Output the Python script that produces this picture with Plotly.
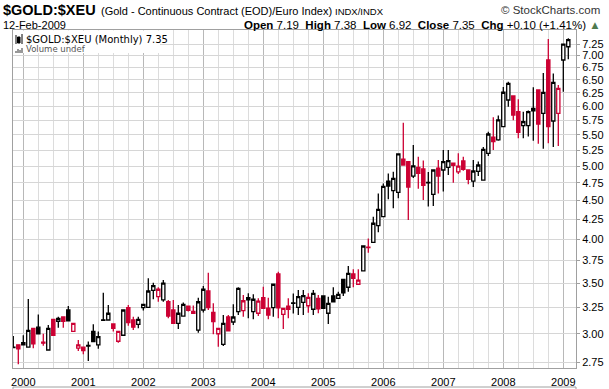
import plotly.graph_objects as go

# ---------------- data (monthly, Nov 1999 .. Feb 2009) ----------------
month_labels = (["1999-11", "1999-12"] +
                [f"{y}-{m:02d}" for y in range(2000, 2009) for m in range(1, 13)] +
                ["2009-01", "2009-02"])

opens = [2.88, 2.90, 2.90, 2.88, 3.05, 3.06, 2.925, 2.855, 3.135, 3.116, 3.157, 3.225,
         3.022, 2.872, 2.88, 2.895, 3.022, 2.90, 3.13, 3.128, 3.09, 2.932, 2.986, 3.248,
         3.128, 3.087, 3.248, 3.25, 3.424, 3.358, 3.325, 3.307, 3.225, 3.097, 3.166, 3.264,
         3.212, 3.034, 3.225, 3.417, 3.202, 3.00, 2.905, 3.157, 3.109, 3.208, 3.218, 3.348,
         3.208, 3.193, 3.348, 3.242, 3.248, 3.599, 3.183, 3.264, 3.295, 3.25, 3.301, 3.267,
         3.232, 3.342, 3.366, 3.193, 3.366, 3.342, 3.541, 3.456, 3.599, 3.488, 3.632, 3.905,
         3.963, 4.169, 4.285, 4.776, 4.638, 4.614, 5.104, 5.067, 4.85, 4.981, 4.955, 4.755,
         4.587, 4.966, 4.94, 4.981, 5.044, 4.913, 5.079, 4.94, 4.776, 4.92, 4.79, 5.198,
         5.458, 5.413, 5.636, 6.114, 6.19, 5.90, 5.654, 5.654, 5.96, 6.304, 5.87, 6.906,
         5.735, 5.87, 6.906, 7.19]
highs = [2.98, 2.90, 2.985, 3.335, 3.055, 3.18, 3.00, 3.08, 3.14, 3.16, 3.16, 3.264,
         3.097, 2.943, 2.88, 2.93, 3.087, 3.02, 3.40, 3.274, 3.09, 3.022, 3.23, 3.274,
         3.16, 3.16, 3.285, 3.552, 3.505, 3.456, 3.533, 3.325, 3.325, 3.274, 3.30, 3.27,
         3.27, 3.348, 3.47, 3.613, 3.291, 3.05, 3.176, 3.176, 3.281, 3.456, 3.376, 3.393,
         3.383, 3.342, 3.462, 3.348, 3.49, 3.624, 3.245, 3.342, 3.39, 3.428, 3.428, 3.393,
         3.428, 3.376, 3.37, 3.358, 3.456, 3.41, 3.545, 3.687, 3.651, 3.651, 3.92, 4.01,
         4.285, 4.60, 4.74, 4.889, 4.913, 5.19, 5.706, 5.07, 5.33, 5.145, 5.084, 4.91,
         4.94, 5.093, 5.25, 5.25, 5.05, 5.198, 5.145, 4.94, 5.093, 5.07, 5.30, 5.551,
         5.80, 5.83, 6.36, 6.464, 6.19, 6.127, 5.90, 5.92, 6.355, 6.31, 6.64, 7.36,
         6.63, 6.40, 7.25, 7.38]
lows = [2.87, 2.733, 2.90, 2.88, 2.87, 3.00, 2.893, 2.85, 2.98, 3.056, 3.056, 3.12,
        3.022, 2.846, 2.818, 2.76, 2.925, 2.866, 3.12, 3.125, 3.02, 2.919, 2.986, 3.074,
        3.034, 3.05, 3.22, 3.245, 3.332, 3.307, 3.307, 3.144, 3.09, 3.044, 3.16, 3.21,
        3.19, 3.01, 3.20, 3.225, 2.995, 2.884, 2.89, 3.02, 3.081, 3.176, 3.16, 3.144,
        3.135, 3.166, 3.24, 3.135, 3.16, 3.144, 3.044, 3.144, 3.19, 3.176, 3.176, 3.198,
        3.176, 3.193, 3.24, 3.09, 3.30, 3.34, 3.366, 3.41, 3.456, 3.488, 3.63, 3.84,
        3.96, 4.086, 4.28, 4.518, 4.396, 4.532, 5.01, 4.242, 4.82, 4.666, 4.509, 4.42,
        4.427, 4.60, 4.627, 4.865, 4.75, 4.88, 4.93, 4.73, 4.689, 4.85, 4.78, 5.155,
        5.25, 5.40, 5.63, 5.99, 5.75, 5.44, 5.44, 5.47, 5.40, 5.35, 5.27, 5.36,
        5.30, 5.315, 6.27, 6.92]
closes = [2.875, 2.865, 2.92, 3.03, 2.91, 3.00, 2.915, 3.05, 2.986, 3.144, 3.116, 3.12,
          3.097, 2.899, 2.849, 2.89, 2.93, 2.973, 3.125, 3.193, 3.05, 3.022, 3.225, 3.103,
          3.06, 3.135, 3.281, 3.417, 3.473, 3.435, 3.50, 3.166, 3.097, 3.193, 3.281, 3.222,
          3.193, 3.307, 3.435, 3.248, 3.112, 3.05, 3.097, 3.027, 3.157, 3.445, 3.317, 3.325,
          3.332, 3.314, 3.242, 3.176, 3.488, 3.245, 3.24, 3.232, 3.29, 3.358, 3.369, 3.352,
          3.393, 3.235, 3.242, 3.291, 3.307, 3.383, 3.399, 3.606, 3.552, 3.533, 3.919, 3.899,
          4.20, 4.382, 4.70, 4.705, 4.816, 5.187, 5.016, 4.689, 5.001, 4.889, 4.715, 4.751,
          4.94, 4.85, 5.067, 5.084, 5.01, 5.00, 4.951, 4.802, 4.925, 5.016, 5.26, 5.512,
          5.386, 5.753, 6.26, 6.432, 5.84, 5.541, 5.723, 5.90, 5.917, 5.682, 6.259, 5.636,
          6.452, 6.336, 7.25, 7.35]

year_labels = [str(y) for y in range(2000, 2010)]
year_positions = [2 + 12 * i for i in range(10)]          # January of each year
price_ticks = [2.75, 3.00, 3.25, 3.50, 3.75, 4.00, 4.25, 4.50, 4.75, 5.00,
               5.25, 5.50, 5.75, 6.00, 6.25, 6.50, 6.75, 7.00, 7.25]
price_tick_text = [f"{v:.2f}" for v in price_ticks]

# ---------------- styling ----------------
W, H = 609, 389
L, R, T, B = 13, 33, 30, 21
PW, PH = W - L - R, H - T - B
BLACK = "#000000"
RED = "#CC0033"
FONT = "Liberation Sans, Arial, sans-serif"


def xp(px):
    return (px - L) / PW


def yp(py):
    return 1 - (py - T) / PH


idx = list(range(len(closes)))
groups = {"black": [], "red": []}
for i in idx:
    prev = closes[i - 1] if i > 0 else closes[i]
    groups["black" if closes[i] >= prev else "red"].append(i)

fig = go.Figure()
for name, col in (("black", BLACK), ("red", RED)):
    ids = groups[name]
    fig.add_trace(go.Candlestick(
        x=[idx[i] for i in ids],
        open=[opens[i] for i in ids],
        high=[highs[i] for i in ids],
        low=[lows[i] for i in ids],
        close=[closes[i] for i in ids],
        text=[month_labels[i] for i in ids],
        increasing=dict(line=dict(color=col, width=1.3), fillcolor="#FFFFFF"),
        decreasing=dict(line=dict(color=col, width=1.3), fillcolor=col),
        whiskerwidth=0,
        showlegend=False,
        hoverinfo="text+y",
    ))

fig.update_layout(
    width=W, height=H,
    margin=dict(l=L, r=R, t=T, b=B, pad=0, autoexpand=False),
    paper_bgcolor="#FFFFFF", plot_bgcolor="#FFFFFF",
    boxgap=0.08,
    font=dict(family=FONT, size=11, color="#000000"),
    xaxis=dict(
        range=[-0.06, 112.54],
        tickmode="array", tickvals=year_positions, ticktext=year_labels,
        showgrid=True, gridcolor="#B8B8B8", gridwidth=1,
        minor=dict(tick0=2, dtick=3, showgrid=True, gridcolor="#DCDCDC", gridwidth=1),
        ticks="outside", ticklen=4, tickcolor="rgba(0,0,0,0)",
        showline=True, linecolor="#A0A0A0", linewidth=1, mirror=True,
        rangeslider=dict(visible=False),
        zeroline=False, automargin=False,
        tickfont=dict(family=FONT, size=11, color="#000000"),
        fixedrange=True,
    ),
    yaxis=dict(
        type="log", side="right",
        range=[0.43178, 0.87892],
        tickmode="array", tickvals=price_ticks, ticktext=price_tick_text,
        showgrid=True, gridcolor="#D6D6D6", gridwidth=1,
        ticks="outside", ticklen=3, tickcolor="#A0A0A0",
        showline=True, linecolor="#A0A0A0", linewidth=1, mirror=True,
        zeroline=False, automargin=False,
        tickfont=dict(family=FONT, size=11, color="#000000"),
        fixedrange=True,
    ),
)

shapes = [
    # legend box (white) in the top-left of the plot
    dict(type="rect", xref="paper", yref="paper",
         x0=xp(13.5), x1=xp(160), y0=yp(53), y1=yp(30.5),
         fillcolor="#FFFFFF", line=dict(width=0), layer="above"),
    # line below the date axis (top of lower panel)
    dict(type="line", xref="paper", yref="paper",
         x0=xp(13), x1=xp(576), y0=yp(387), y1=yp(387),
         line=dict(color="#A0A0A0", width=1)),
    dict(type="line", xref="paper", yref="paper",
         x0=xp(13), x1=xp(13), y0=yp(387), y1=yp(389),
         line=dict(color="#A0A0A0", width=1)),
    dict(type="line", xref="paper", yref="paper",
         x0=xp(576), x1=xp(576), y0=yp(387), y1=yp(389),
         line=dict(color="#A0A0A0", width=1)),
]
# tiny candlestick icon in legend
shapes += [
    dict(type="line", xref="paper", yref="paper", x0=xp(16), x1=xp(16), y0=yp(44), y1=yp(35),
         line=dict(color="#000", width=1), layer="above"),
    dict(type="rect", xref="paper", yref="paper", x0=xp(17.5), x1=xp(20), y0=yp(43), y1=yp(37),
         line=dict(color="#000", width=1), fillcolor="#000", layer="above"),
    dict(type="line", xref="paper", yref="paper", x0=xp(22), x1=xp(22), y0=yp(44), y1=yp(34),
         line=dict(color="#000", width=1), layer="above"),
]
# tiny volume icon
for xx, top in ((16, 51), (18, 49), (20, 50), (22, 48)):
    shapes.append(dict(type="line", xref="paper", yref="paper", x0=xp(xx), x1=xp(xx),
                       y0=yp(53), y1=yp(top), line=dict(color="#555", width=1.2), layer="above"))
fig.update_layout(shapes=shapes)

ann = []


def add_text(txt, px, py, size, anchor="left", color="#000000", family=FONT):
    ann.append(dict(text=txt, xref="paper", yref="paper", x=xp(px), y=yp(py),
                    xanchor=anchor, yanchor="middle", showarrow=False,
                    font=dict(family=family, size=size, color=color)))


add_text("<b>$GOLD:$XEU</b>", 1, 9.5, 14.5)
add_text("(Gold - Continuous Contract (EOD)/Euro Index)", 99, 11, 11)
add_text("INDX/INDX", 333, 11, 9.5)
add_text("© StockCharts.com", 602, 10, 11.5, anchor="right", color="#333333")
add_text("12-Feb-2009", 1, 25, 11)
add_text("<b>Open</b> 7.19  <b>High</b> 7.38  <b>Low</b> 6.92  <b>Close</b> 7.35  "
         "<b>Chg</b> +0.10 (+1.41%) <span style='color:#4E7A4E'>▲</span>",
         603, 25, 11.5, anchor="right")
add_text("$GOLD:$XEU (Monthly) 7.35", 24, 39, 10, family="DejaVu Sans, sans-serif")
add_text("Volume undef", 24, 49, 8.5, color="#555555", family="DejaVu Sans, sans-serif")
fig.update_layout(annotations=ann)

fig.write_html(
    "out.html",
    config={"displayModeBar": False},
    post_script="document.body.style.margin='0px';document.body.style.overflow='hidden';",
)
